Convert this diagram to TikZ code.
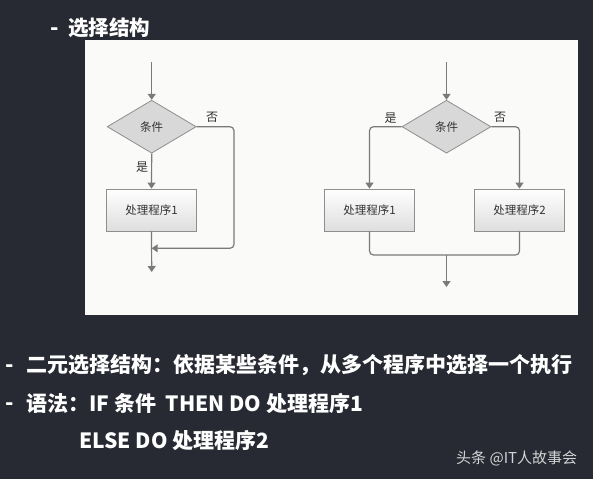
\documentclass[tikz,border=0pt]{standalone}
\usepackage{fontspec}
\setmainfont{Noto Sans CJK SC}
\usetikzlibrary{shapes.geometric,arrows.meta,calc}
\definecolor{bgdark}{HTML}{272A33}
\definecolor{panel}{HTML}{FAFAF8}
\definecolor{lineg}{HTML}{7A7A7A}
\definecolor{boxedge}{HTML}{8E8E8E}
\definecolor{diafill}{HTML}{D8D8D8}
\definecolor{txtd}{HTML}{333333}
\definecolor{footc}{HTML}{D4D4D4}
\tikzset{
  flow/.style={draw=lineg, line width=1.2pt},
  arr/.style={flow, -{Triangle[width=8pt,length=6pt]}},
  cond/.style={diamond, draw=boxedge, fill=diafill, line width=0.8pt, minimum width=89pt, minimum height=53pt, inner sep=0pt, text=txtd, font=\fontsize{11.5}{13}\selectfont},
  procbox/.style={rectangle, draw=boxedge, line width=0.8pt, top color=white, bottom color=diafill!85, minimum width=90pt, minimum height=42pt, inner sep=0pt, text=txtd, font=\fontsize{11.5}{13}\selectfont},
  yn/.style={text=txtd, inner sep=0pt, font=\fontsize{12}{14}\selectfont},
  head/.style={text=white, inner sep=0pt, anchor=west, font=\bfseries\fontsize{20.5}{24}\selectfont},
  body/.style={text=white, inner sep=0pt, anchor=west, font=\bfseries\fontsize{21}{25}\selectfont},
  bullet/.style={text=white, inner sep=0pt, font=\bfseries\fontsize{22}{26}\selectfont},
  foot/.style={text=footc, inner sep=0pt, anchor=west, font=\fontsize{15}{18}\selectfont}
}
\begin{document}
\begin{tikzpicture}[x=1pt,y=-1pt]
\fill[bgdark] (0,0) rectangle (593,479);
\useasboundingbox (0,0) rectangle (593,479);
\fill[panel] (85,40) rectangle (578,315);

% title
\node[bullet] (hd) at (55,32) {-};
\node[head] (ht) at (68,28) {选择结构};

% left flowchart
\coordinate (t1) at (151.7,62);
\node[cond] (d1) at (151.7,126.7) {条件};
\node[procbox] (b1) at (151.5,210) {处理程序1};
\coordinate (e1) at (151.7,272);
\coordinate (k1) at (234,248.3);
\coordinate (j1) at (151.7,248.3);
\draw[arr] (t1) -- (d1.north);
\draw[arr] (d1.south) -- (b1.north);
\draw[arr] (b1.south) -- (e1);
\draw[arr, rounded corners=4pt] (d1.east) -| (k1) -- (j1);
\node[yn] (y1) at (142,166.7) {是};
\node[yn] (n1) at (212,117.7) {否};

% right flowchart
\coordinate (t2) at (446.5,62);
\node[cond] (d2) at (446.5,126.7) {条件};
\node[procbox] (b2) at (369.5,210) {处理程序1};
\node[procbox] (b3) at (519.5,210) {处理程序2};
\coordinate (m2) at (446.5,255);
\coordinate (e2) at (446.5,287);
\draw[arr] (t2) -- (d2.north);
\draw[arr, rounded corners=4pt] (d2.west) -| (b2.north);
\draw[arr, rounded corners=4pt] (d2.east) -| (b3.north);
\draw[flow, rounded corners=4pt] (b2.south) |- (m2) -| (b3.south);
\draw[arr] (m2) -- (e2);
\node[yn] (y2) at (390.7,117.7) {是};
\node[yn] (n2) at (500,117.7) {否};

% text lines
\node[bullet] (l1d) at (10,369) {-};
\node[body] (l1) at (26,365) {二元选择结构：依据某些条件，从多个程序中选择一个执行};
\node[bullet] (l2d) at (10,407) {-};
\node[body] (l2) at (26,403) {语法：IF 条件\ \ THEN DO 处理程序1};
\node[body] (l3) at (79,440) {ELSE DO 处理程序2};
\node[foot] (ft) at (456,458) {头条 @IT人故事会};
\end{tikzpicture}
\end{document}
